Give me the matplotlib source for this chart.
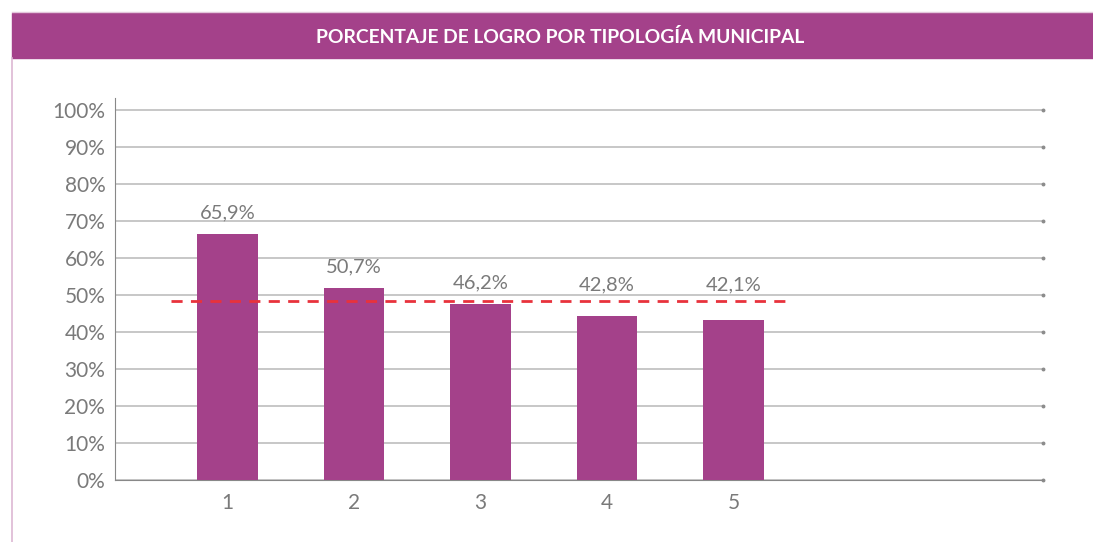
import matplotlib.pyplot as plt
from matplotlib.patches import Rectangle
from matplotlib.lines import Line2D
from matplotlib.ticker import FuncFormatter

# data
categories = ["1", "2", "3", "4", "5"]
bar_heights = [66.5, 51.9, 47.6, 44.1, 43.2]
bar_labels = ["65,9%", "50,7%", "46,2%", "42,8%", "42,1%"]
average = 48.2
title = "PORCENTAJE DE LOGRO POR TIPOLOGÍA MUNICIPAL"

PURPLE = "#A4418A"
GRID = "#BDBDBD"
TEXT = "#7A7A7A"

plt.rcParams["font.family"] = ["Lato", "DejaVu Sans"]

fig = plt.figure(figsize=(10.93, 5.42), dpi=100)

# header band and frame
fig.patches.append(Rectangle((12 / 1093, 1 - 58 / 542), 1, 45 / 542,
                             transform=fig.transFigure, color=PURPLE, zorder=0))
fig.lines.append(Line2D([12 / 1093, 1], [1 - 12 / 542, 1 - 12 / 542],
                        transform=fig.transFigure, color="#E3C6DB", lw=1))
fig.lines.append(Line2D([12 / 1093, 12 / 1093], [0, 1 - 58 / 542],
                        transform=fig.transFigure, color="#DDB8D3", lw=1.2))
fig.text(560 / 1093, 1 - 37 / 542, title, color="white", fontsize=13.9,
         fontweight="bold", ha="center", va="center")

ax = fig.add_axes([115 / 1093, 62.5 / 542, 928 / 1093, 381.5 / 542])
x = list(range(1, len(categories) + 1))
ax.bar(x, bar_heights, width=0.48, color=PURPLE, zorder=3)
# labels sit above the bar, but never on top of the dashed average line
for xi, h, lab in zip(x, bar_heights, bar_labels):
    y_lab = max(h + 5.5, average + 4.4)
    ax.text(xi, y_lab, lab, ha="center", va="center", fontsize=14.5,
            color=TEXT)

ax.hlines(average, 0.55, 5.44, colors="#E8323C", linestyles=(0, (4, 3)),
          lw=2, zorder=4)

ax.set_xlim(1 - 112.5 / 126.5, 1 + 815.5 / 126.5)
ax.set_ylim(0, 103.2)
ticks = list(range(0, 101, 10))
ax.set_yticks(ticks)
ax.yaxis.set_major_formatter(FuncFormatter(lambda v, p: f"{int(v)}%"))
ax.set_xticks(x)
ax.set_xticklabels(categories)
ax.grid(axis="y", color=GRID, lw=1.2, zorder=0)
# small end marks on the right of every gridline
ax.plot([ax.get_xlim()[1]] * len(ticks), ticks, ls="none", marker="o",
        ms=1.8, color="#8C8C8C", clip_on=False, zorder=2)
for s in ["top", "right"]:
    ax.spines[s].set_visible(False)
ax.spines["left"].set_color("#888888")
ax.spines["bottom"].set_color("#888888")
ax.tick_params(axis="both", length=0, labelsize=15, labelcolor=TEXT)
ax.tick_params(axis="x", pad=10)
ax.tick_params(axis="y", pad=7)

fig.savefig("out.png", dpi=100)
